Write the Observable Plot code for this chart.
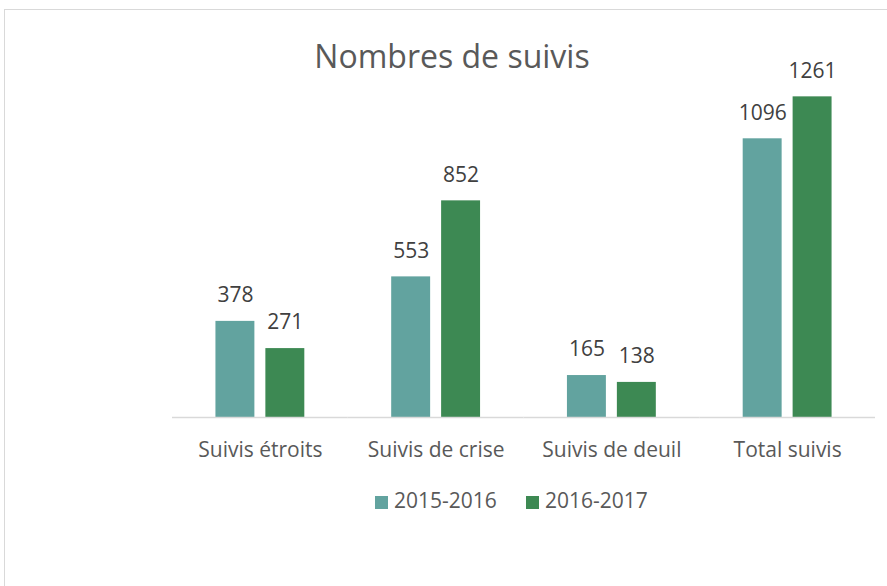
<!DOCTYPE html>
<html>
<head>
<meta charset="utf-8">
<script src="https://cdn.jsdelivr.net/npm/d3@7"></script>
<script src="https://cdn.jsdelivr.net/npm/@observablehq/plot@0.6"></script>
<style>
  html, body { margin: 0; padding: 0; background: #fff; }
  body { width: 887px; height: 586px; overflow: hidden; position: relative; font-family: "Open Sans", sans-serif; }
  #frame { position: absolute; left: 4px; top: 9px; width: 1000px; height: 700px; border: 1.5px solid #d9d9d9; box-sizing: border-box; }
  #title { position: absolute; left: 0; top: 40px; width: 904px; text-align: center; font-size: 32px; line-height: 32px; color: #595959; }
  #chart { position: absolute; left: 0; top: 0; }
  .leg { position: absolute; font-size: 21px; line-height: 21px; color: #595959; white-space: nowrap; }
  .sw { position: absolute; width: 13px; height: 13px; }
</style>
</head>
<body>
<div id="frame"></div>
<div id="chart"></div>
<div id="title">Nombres de suivis</div>
<div id="legend"></div>
<script>
const categories = ["Suivis étroits", "Suivis de crise", "Suivis de deuil", "Total suivis"];
const years = ["2015-2016", "2016-2017"];
const values2015 = [378, 553, 165, 1096];
const values2016 = [271, 852, 138, 1261];
const colors = ["#62a39f", "#3d8953"];

const data = categories.flatMap((c, i) => [
  {cat: c, year: years[0], value: values2015[i]},
  {cat: c, year: years[1], value: values2016[i]}
]);

const chart = Plot.plot({
  width: 887,
  height: 470,
  marginLeft: 172,
  marginRight: 12,
  marginTop: 61,
  marginBottom: 53,
  style: {fontFamily: "Open Sans", color: "#595959", background: "transparent", overflow: "visible"},
  fx: {domain: categories, padding: 0, round: false, label: null},
  x: {domain: years, paddingInner: 0.22, paddingOuter: 0.87, round: false, axis: null},
  y: {domain: [0, 1400], axis: null},
  color: {domain: years, range: colors},
  marks: [
    Plot.barY(data, {fx: "cat", x: "year", y: "value", fill: "year"}),
    Plot.ruleY([0], {stroke: "#d9d9d9", strokeWidth: 1.5}),
    Plot.text(data, {fx: "cat", x: "year", y: "value", text: d => String(d.value), dy: -26, fontSize: 21, fill: "#404040"}),
    Plot.axisFx({anchor: "bottom", tickSize: 0, tickPadding: 25, fontSize: 21, label: null})
  ]
});
document.getElementById("chart").appendChild(chart);

// legend built from the same series names and colours
const legend = document.getElementById("legend");
const legX = [375, 526];
years.forEach((y, i) => {
  const sw = document.createElement("div");
  sw.className = "sw";
  sw.style.left = legX[i] + "px";
  sw.style.top = "496px";
  sw.style.background = colors[i];
  legend.appendChild(sw);
  const t = document.createElement("div");
  t.className = "leg";
  t.style.left = (legX[i] + 19) + "px";
  t.style.top = "490px";
  t.textContent = y;
  legend.appendChild(t);
});
</script>
</body>
</html>
